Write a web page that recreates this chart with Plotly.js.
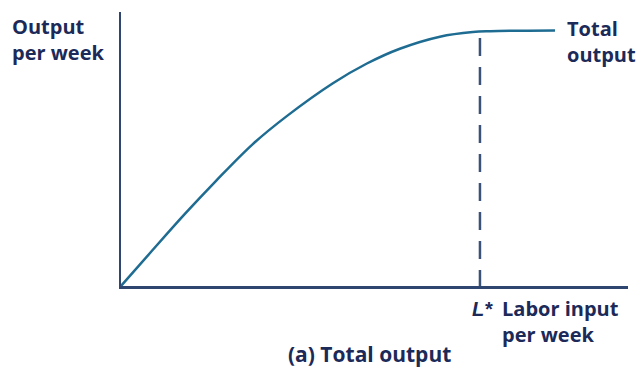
<!DOCTYPE html>
<html>
<head>
<meta charset="utf-8">
<script src="https://cdn.plot.ly/plotly-3.0.1.min.js"></script>
<style>html,body{margin:0;padding:0;background:#fff;}#chart{width:644px;height:369px;}</style>
</head>
<body>
<div id="chart"></div>
<script>
// Total output curve (labor input vs output)
const laborInput = [0, 5.9, 12.6, 18.7, 26.0, 32.7, 41.8, 48.5, 55.0, 62.9, 69.4, 72.8, 85.6];
const totalOutput = [0, 12.4, 26.3, 38.3, 51.8, 62.0, 74.0, 81.2, 86.6, 91.0, 92.7, 93.0, 93.25];
// L* marker
const lStar = [70.8, 70.8];
const lStarY = [90.5, 0];

const textColor = '#1b2a58';
const axisColor = '#2e4670';
const curveColor = '#1f6c92';
const F = 'Open Sans, Noto Sans, sans-serif';

// pixel helpers for label placement (plot area: x 121..628, y 12..286)
const L = 121, R = 628, T = 12, B = 286;
const px = p => (p - L) / (R - L);
const py = p => (B - p) / (B - T);

function lab(text, x, y, xanchor, size, family) {
  return {
    xref: 'paper', yref: 'paper', x: px(x), y: py(y), xanchor: xanchor, yanchor: 'middle',
    align: 'left', text: text, showarrow: false, borderpad: 0,
    font: {family: family || F, size: size || 20, color: textColor, weight: 700}
  };
}

const traces = [
  {x: laborInput, y: totalOutput, type: 'scatter', mode: 'lines',
   line: {color: curveColor, width: 2.5, shape: 'spline', smoothing: 1},
   hoverinfo: 'skip', cliponaxis: false},
  {x: lStar, y: lStarY, type: 'scatter', mode: 'lines',
   line: {color: '#3b5278', width: 2.5, dash: '18px,11px'},
   hoverinfo: 'skip'}
];

const layout = {
  width: 644, height: 369,
  margin: {l: L, r: 644 - R, t: T, b: 369 - B, pad: 0},
  paper_bgcolor: '#fff', plot_bgcolor: '#fff',
  showlegend: false,
  xaxis: {range: [0, 100], showgrid: false, zeroline: false, showticklabels: false, ticks: '',
          showline: true, linecolor: axisColor, linewidth: 2.5, fixedrange: true},
  yaxis: {range: [0, 100], showgrid: false, zeroline: false, showticklabels: false, ticks: '',
          showline: true, linecolor: axisColor, linewidth: 2.5, fixedrange: true},
  annotations: [
    lab('Output<br>per week', 11, 39, 'left'),
    lab('Total<br>output', 566, 42, 'left'),
    lab('<i>L*</i>', 494, 309, 'right', 20, 'Liberation Sans, Arial, sans-serif'),
    lab('Labor input<br>per week', 501, 321, 'left'),
    lab('(a) Total output', 369, 354, 'center', 21)
  ]
};

Plotly.newPlot('chart', traces, layout, {displayModeBar: false, staticPlot: true});
</script>
</body>
</html>
